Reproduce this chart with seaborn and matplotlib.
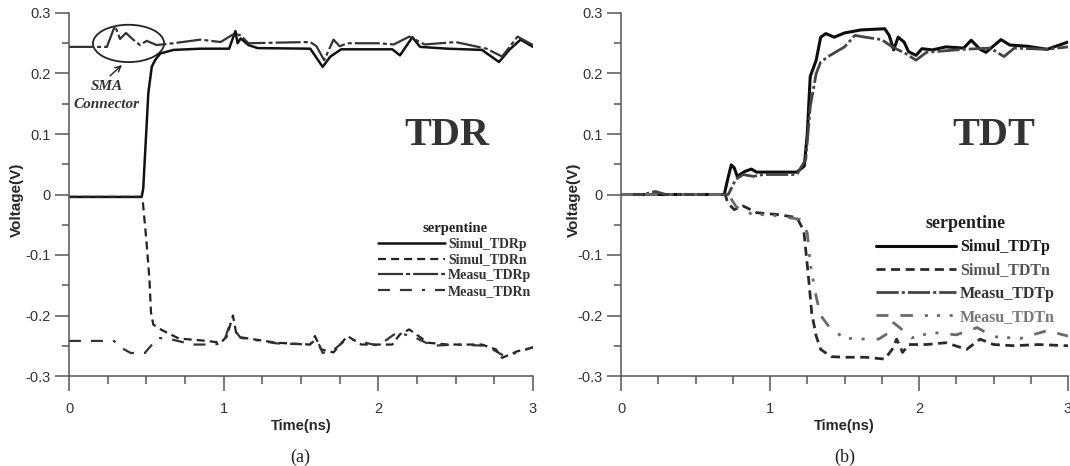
import matplotlib
matplotlib.use("Agg")
import matplotlib.pyplot as plt
from matplotlib.patches import Ellipse
from matplotlib.ticker import MultipleLocator, FuncFormatter
import seaborn as sns

sns.set_style("ticks")
plt.rcParams['font.family'] = ['Liberation Sans', 'DejaVu Sans']
plt.rcParams['axes.unicode_minus'] = False
plt.rcParams['lines.scale_dashes'] = False
SERIF = ['Liberation Serif', 'DejaVu Serif']

# (a) TDR, valores
tdr_simul_p_t = [0.0, 0.47, 0.48, 0.49, 0.513, 0.535, 0.556, 0.59, 0.675, 0.85, 1.035, 1.076, 1.09, 1.11, 1.16,
                 1.22, 1.56, 1.64, 1.69, 1.76, 2.09, 2.14, 2.18, 2.22, 2.27, 2.45, 2.67, 2.78, 2.85, 2.92, 3.0]
tdr_simul_p_v = [-0.004, -0.004, 0.01, 0.058, 0.168, 0.211, 0.222, 0.233, 0.239, 0.241, 0.241, 0.270, 0.250,
                 0.258, 0.247, 0.242, 0.241, 0.211, 0.228, 0.240, 0.240, 0.230, 0.245, 0.260, 0.244, 0.241,
                 0.239, 0.219, 0.240, 0.256, 0.244]

tdr_simul_n_t = [0.0, 0.47, 0.477, 0.5, 0.52, 0.53, 0.545, 0.6, 0.71, 0.89, 0.98, 1.02, 1.06, 1.08, 1.11, 1.34,
                 1.56, 1.59, 1.63, 1.71, 1.8, 1.89, 2.09, 2.14, 2.2, 2.32, 2.45, 2.67, 2.76, 2.8, 2.9, 3.0]
tdr_simul_n_v = [-0.004, -0.004, -0.011, -0.075, -0.14, -0.195, -0.215, -0.224, -0.238, -0.242, -0.245,
                 -0.235, -0.200, -0.228, -0.236, -0.245, -0.248, -0.234, -0.256, -0.261, -0.234, -0.248,
                 -0.248, -0.231, -0.223, -0.245, -0.248, -0.248, -0.256, -0.270, -0.259, -0.253]

tdr_measu_p_t = [0.0, 0.156, 0.245, 0.297, 0.33, 0.368, 0.415, 0.459, 0.502, 0.567, 0.675, 0.85, 0.98, 1.07,
                 1.11, 1.16, 1.34, 1.56, 1.6, 1.65, 1.71, 1.75, 1.8, 2.0, 2.1, 2.2, 2.3, 2.5, 2.7, 2.8, 2.9, 3.0]
tdr_measu_p_v = [0.244, 0.244, 0.244, 0.279, 0.257, 0.267, 0.256, 0.247, 0.254, 0.247, 0.250, 0.256, 0.252,
                 0.266, 0.263, 0.250, 0.251, 0.252, 0.245, 0.222, 0.256, 0.245, 0.250, 0.250, 0.248, 0.261,
                 0.248, 0.252, 0.241, 0.228, 0.261, 0.247]

tdr_measu_n_t = [0.0, 0.29, 0.356, 0.4, 0.49, 0.53, 0.58, 0.67, 0.8, 0.94, 1.0, 1.035, 1.07, 1.11, 1.34, 1.56,
                 1.6, 1.64, 1.72, 1.8, 2.0, 2.12, 2.18, 2.25, 2.35, 2.5, 2.7, 2.8, 2.9, 3.0]
tdr_measu_n_v = [-0.242, -0.242, -0.256, -0.262, -0.262, -0.250, -0.237, -0.240, -0.248, -0.248, -0.245,
                 -0.218, -0.224, -0.237, -0.246, -0.248, -0.238, -0.262, -0.255, -0.238, -0.250, -0.228,
                 -0.232, -0.238, -0.250, -0.248, -0.250, -0.265, -0.262, -0.252]

# (b) TDT
tdt_simul_p_t = [0.0, 0.693, 0.716, 0.74, 0.76, 0.78, 0.83, 0.875, 0.91, 1.045, 1.18, 1.23, 1.25, 1.27, 1.31,
                 1.34, 1.375, 1.43, 1.5, 1.61, 1.77, 1.8, 1.83, 1.86, 1.9, 1.93, 1.98, 2.02, 2.09, 2.18, 2.3,
                 2.35, 2.41, 2.45, 2.55, 2.61, 2.73, 2.86, 3.0]
tdt_simul_p_v = [0.0, 0.0, 0.025, 0.049, 0.044, 0.030, 0.038, 0.042, 0.037, 0.037, 0.037, 0.047, 0.100,
                 0.195, 0.222, 0.260, 0.266, 0.260, 0.267, 0.272, 0.274, 0.263, 0.239, 0.260, 0.252, 0.236,
                 0.230, 0.241, 0.239, 0.244, 0.242, 0.255, 0.240, 0.235, 0.256, 0.247, 0.245, 0.240, 0.252]

tdt_simul_n_t = [0.0, 0.70, 0.716, 0.76, 0.82, 0.91, 1.045, 1.18, 1.227, 1.26, 1.28, 1.31, 1.34, 1.41, 1.5,
                 1.64, 1.77, 1.82, 1.85, 1.89, 1.93, 2.05, 2.18, 2.32, 2.41, 2.5, 2.64, 2.8, 3.0]
tdt_simul_n_v = [0.0, 0.0, -0.014, -0.025, -0.019, -0.030, -0.033, -0.038, -0.060, -0.141, -0.196, -0.234,
                 -0.256, -0.268, -0.269, -0.269, -0.272, -0.256, -0.239, -0.261, -0.248, -0.248, -0.245,
                 -0.256, -0.239, -0.248, -0.250, -0.248, -0.250]

tdt_measu_p_t = [0.0, 0.15, 0.23, 0.3, 0.72, 0.77, 0.82, 0.886, 0.955, 1.18, 1.24, 1.27, 1.31, 1.34, 1.39,
                 1.5, 1.57, 1.64, 1.75, 1.82, 1.91, 1.98, 2.05, 2.3, 2.48, 2.57, 2.64, 2.86, 3.0]
tdt_measu_p_v = [0.0, 0.0, 0.005, 0.0, 0.0, 0.025, 0.033, 0.030, 0.033, 0.033, 0.058, 0.145, 0.200, 0.219,
                 0.228, 0.244, 0.263, 0.260, 0.256, 0.244, 0.233, 0.222, 0.235, 0.240, 0.242, 0.228, 0.242,
                 0.240, 0.244]

tdt_measu_n_t = [0.0, 0.72, 0.77, 0.82, 0.93, 1.045, 1.2, 1.25, 1.27, 1.31, 1.34, 1.41, 1.5, 1.59, 1.73, 1.8,
                 1.83, 1.88, 1.95, 2.09, 2.25, 2.39, 2.5, 2.68, 2.86, 3.0]
tdt_measu_n_v = [0.0, 0.0, -0.019, -0.030, -0.033, -0.035, -0.041, -0.063, -0.114, -0.169, -0.200, -0.223,
                 -0.237, -0.239, -0.239, -0.228, -0.212, -0.222, -0.237, -0.228, -0.232, -0.220, -0.235,
                 -0.238, -0.225, -0.234]

W, H = 1070, 466
fig = plt.figure(figsize=(W / 100, H / 100), dpi=100)
ax_a = fig.add_axes([69 / W, 1 - 376 / H, 464 / W, 363 / H])
ax_b = fig.add_axes([621 / W, 1 - 376 / H, 447 / W, 363 / H])


def style_axes(ax):
    ax.set_xlim(0, 3)
    ax.set_ylim(-0.3, 0.3)
    ax.xaxis.set_major_locator(MultipleLocator(1))
    ax.xaxis.set_minor_locator(MultipleLocator(0.25))
    ax.yaxis.set_major_locator(MultipleLocator(0.1))
    ax.yaxis.set_minor_locator(MultipleLocator(0.05))
    ax.xaxis.set_major_formatter(FuncFormatter(lambda v, _: '0' if abs(v) < 1e-9 else f'{v:g}'))
    ax.yaxis.set_major_formatter(FuncFormatter(lambda v, _: '0' if abs(v) < 1e-9 else f'{v:.1f}'))
    ax.spines[['top', 'right']].set_visible(False)
    for s in ['left', 'bottom']:
        ax.spines[s].set_color('#555555')
        ax.spines[s].set_linewidth(1.1)
    ax.tick_params(axis='x', which='major', length=11, width=1.1, color='#555555',
                   labelsize=10.5, labelcolor='#333333', pad=8)
    ax.tick_params(axis='x', which='minor', length=6, width=1.1, color='#555555')
    ax.tick_params(axis='y', which='major', length=10, width=1.1, color='#555555',
                   labelsize=10.5, labelcolor='#333333', pad=3)
    ax.tick_params(axis='y', which='minor', length=5, width=1.1, color='#555555')
    ax.set_xlabel('Time(ns)', fontweight='bold', fontsize=10.5, va='center')
    ax.set_ylabel('Voltage(V)', fontweight='bold', fontsize=11, va='center')
    ax.xaxis.set_label_coords(0.5, -0.138)
    ax.grid(False)


# ---- (a) TDR
sns.lineplot(x=tdr_simul_p_t, y=tdr_simul_p_v, ax=ax_a, color='#111111', lw=1.8, label='Simul_TDRp')
sns.lineplot(x=tdr_simul_n_t, y=tdr_simul_n_v, ax=ax_a, color='#222222', lw=1.6,
             linestyle=(0, (5.8, 3.6)), label='Simul_TDRn')
sns.lineplot(x=tdr_measu_p_t, y=tdr_measu_p_v, ax=ax_a, color='#333333', lw=1.6,
             linestyle=(0, (18, 2.2, 2.9, 2.2)), label='Measu_TDRp')
sns.lineplot(x=tdr_measu_n_t, y=tdr_measu_n_v, ax=ax_a, color='#333333', lw=1.6,
             linestyle=(0, (8.6, 7.2, 8.6, 7.2, 2.2, 7.2)), label='Measu_TDRn')
style_axes(ax_a)
ax_a.yaxis.set_label_coords((17 - 69) / 464, 0.485)

ax_a.text(2.44, 0.082, 'TDR', family=SERIF, fontweight='bold', fontsize=29, color='#333333',
          ha='center', va='baseline')
ax_a.add_patch(Ellipse((0.385, 0.2497), 0.46, 0.0617, fill=False, ec='#222222', lw=1.3))
ax_a.annotate('', xy=(0.342, 0.214), xytext=(0.265, 0.196),
              arrowprops=dict(arrowstyle='->', lw=1.0, color='#222222', shrinkA=0, shrinkB=0))
ax_a.text(0.245, 0.178, 'SMA', family=SERIF, fontweight='bold', style='italic', fontsize=11,
          color='#333333', ha='center', va='center')
ax_a.text(0.245, 0.148, 'Connector', family=SERIF, fontweight='bold', style='italic', fontsize=11,
          color='#333333', ha='center', va='center')

leg_a = ax_a.legend(loc='upper left', bbox_to_anchor=(378 / W, 1 - 222 / H), bbox_transform=fig.transFigure,
                    frameon=False, title='serpentine',
                    prop={'family': SERIF, 'weight': 'bold', 'size': 10},
                    title_fontproperties={'family': SERIF, 'weight': 'bold', 'size': 10.5},
                    handlelength=4.8, handletextpad=0.25, labelspacing=0.2, borderpad=0, borderaxespad=0)
for t in leg_a.get_texts():
    t.set_color('#333333')
leg_a.get_title().set_color('#222222')

# ---- (b) TDT
sns.lineplot(x=tdt_simul_p_t, y=tdt_simul_p_v, ax=ax_b, color='#0d0d0d', lw=2.2, label='Simul_TDTp')
sns.lineplot(x=tdt_simul_n_t, y=tdt_simul_n_v, ax=ax_b, color='#2a2a2a', lw=2.0,
             linestyle=(0, (6.5, 4)), label='Simul_TDTn')
sns.lineplot(x=tdt_measu_p_t, y=tdt_measu_p_v, ax=ax_b, color='#444444', lw=2.0,
             linestyle=(0, (16, 2.2, 2.2, 2.2)), label='Measu_TDTp')
sns.lineplot(x=tdt_measu_n_t, y=tdt_measu_n_v, ax=ax_b, color='#6a6a6a', lw=2.0,
             linestyle=(0, (8.6, 8.6, 9, 8.6, 2.2, 6.5, 2.2, 7, 2.2, 8.6)), label='Measu_TDTn')
style_axes(ax_b)
ax_b.yaxis.set_label_coords((574 - 621) / 447, 0.485)

ax_b.text(2.5, 0.082, 'TDT', family=SERIF, fontweight='bold', fontsize=29, color='#333333',
          ha='center', va='baseline')

leg_b = ax_b.legend(loc='upper left', bbox_to_anchor=(876 / W, 1 - 215 / H), bbox_transform=fig.transFigure,
                    frameon=False, title='serpentine',
                    prop={'family': SERIF, 'weight': 'bold', 'size': 11.5},
                    title_fontproperties={'family': SERIF, 'weight': 'bold', 'size': 13},
                    handlelength=5.0, handletextpad=0.25, labelspacing=0.45, borderpad=0, borderaxespad=0)
for t, c in zip(leg_b.get_texts(), ['#1a1a1a', '#555555', '#333333', '#777777']):
    t.set_color(c)
leg_b.get_title().set_color('#222222')

fig.text(300 / W, 1 - 457 / H, '(a)', family=SERIF, fontsize=13, ha='center', va='center', color='#222222')
fig.text(845 / W, 1 - 457 / H, '(b)', family=SERIF, fontsize=13, ha='center', va='center', color='#222222')

fig.savefig('out.png', dpi=100)
